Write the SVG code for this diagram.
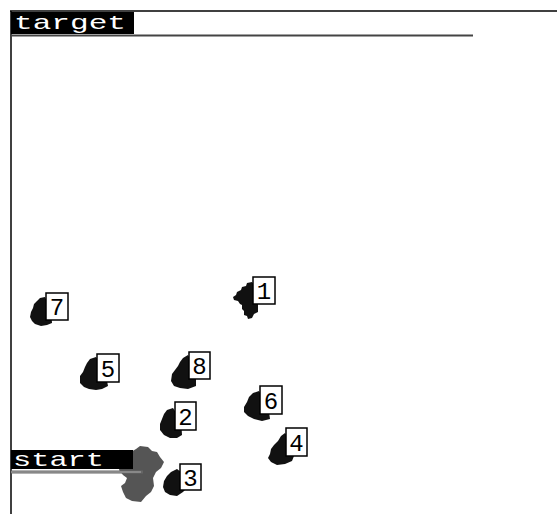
<svg xmlns="http://www.w3.org/2000/svg" width="557" height="514" viewBox="0 0 557 514">
<style>
.lbl{font-family:"Liberation Mono","DejaVu Sans Mono",monospace;font-size:21px;fill:#fff}
.box{fill:#fff;stroke:#000;stroke-width:1.5}
.num{font-family:"Liberation Mono","DejaVu Sans Mono",monospace;font-size:24px;fill:#000;text-anchor:middle}
.blob{fill:#111}
</style>
<rect width="557" height="514" fill="#fff"/>
<g id="frame">
<line x1="10" y1="11" x2="557" y2="11" stroke="#000" stroke-width="1.5"/>
<line x1="11" y1="11" x2="11" y2="514" stroke="#000" stroke-width="1.5"/>
</g>
<g id="target">
<rect x="11" y="12" width="123" height="22" fill="#000"/>
<text class="lbl" x="14" y="29" textLength="112" lengthAdjust="spacingAndGlyphs">target</text>
<line x1="11" y1="35.5" x2="473" y2="35.5" stroke="#444" stroke-width="2"/>
</g>
<g id="start">
<path fill="#555" d="M140,446 L148,447 L152,451 L157,452 L160,457 L164,462 L161,468 L156,472 L153,478 L154,486 L151,492 L146,496 L141,502 L132,501 L126,498 L123,492 L121,486 L125,483 L127,478 L123,475 L119,470 L121,462 L127,458 L131,452 L136,449 Z"/>
<rect x="11" y="450" width="122" height="19" fill="#000"/>
<text class="lbl" x="13" y="466" textLength="91" lengthAdjust="spacingAndGlyphs">start</text>
<line x1="11" y1="472" x2="143" y2="472" stroke="#666" stroke-width="3"/>
<line x1="11" y1="472" x2="141" y2="472" stroke="#aaa" stroke-width="1"/>
</g>
<g id="node1">
<path class="blob" d="M252,282 L247,283 L246,286 L242,287 L241,290 L237,292 L236,295 L233,297 L234,300 L238,301 L240,304 L242,305 L242,309 L244,311 L244,315 L247,316 L248,319 L252,318 L254,314 L258,312 L258,290 Z"/>
<rect class="box" x="253" y="277" width="22" height="27"/>
<text class="num" x="264" y="299">1</text>
</g>
<g id="node7">
<path class="blob" d="M45,297 L40,298 L37,301 L34,304 L33,308 L31,312 L30,317 L32,321 L35,324 L41,326 L47,325 L52,323 L51,310 Z"/>
<rect class="box" x="46" y="293" width="22" height="27"/>
<text class="num" x="57" y="315">7</text>
</g>
<g id="node5">
<path class="blob" d="M96,357 L90,359 L87,363 L85,367 L83,372 L80,376 L80,383 L84,387 L89,389 L96,390 L102,389 L108,386 L105,370 Z"/>
<rect class="box" x="97" y="354" width="22" height="28"/>
<text class="num" x="108" y="377">5</text>
</g>
<g id="node8">
<path class="blob" d="M188,355 L183,358 L180,362 L178,366 L175,370 L172,374 L171,381 L174,386 L180,388 L188,389 L196,386 L196,370 Z"/>
<rect class="box" x="189" y="352" width="21" height="27"/>
<text class="num" x="199.5" y="374">8</text>
</g>
<g id="node2">
<path class="blob" d="M173,408 L167,410 L164,414 L162,419 L160,424 L160,430 L164,435 L170,438 L177,438 L182,435 L181,420 Z"/>
<rect class="box" x="175" y="402" width="21" height="28"/>
<text class="num" x="185.5" y="425">2</text>
</g>
<g id="node6">
<path class="blob" d="M259,391 L253,393 L249,397 L247,402 L244,407 L244,412 L248,416 L254,419 L262,421 L270,419 L268,405 Z"/>
<rect class="box" x="260" y="386" width="22" height="28"/>
<text class="num" x="271" y="409">6</text>
</g>
<g id="node4">
<path class="blob" d="M285,433 L281,436 L278,441 L274,445 L271,449 L270,454 L268,458 L271,462 L277,465 L285,464 L292,461 L294,456 L290,440 Z"/>
<rect class="box" x="286" y="428" width="21" height="28"/>
<text class="num" x="296.5" y="451">4</text>
</g>
<g id="node3">
<path class="blob" d="M177,469 L171,472 L167,476 L164,481 L163,487 L165,492 L170,495 L177,496 L183,492 L187,488 L185,475 Z"/>
<rect class="box" x="180" y="464" width="21" height="26"/>
<text class="num" x="190.5" y="486">3</text>
</g>
</svg>
